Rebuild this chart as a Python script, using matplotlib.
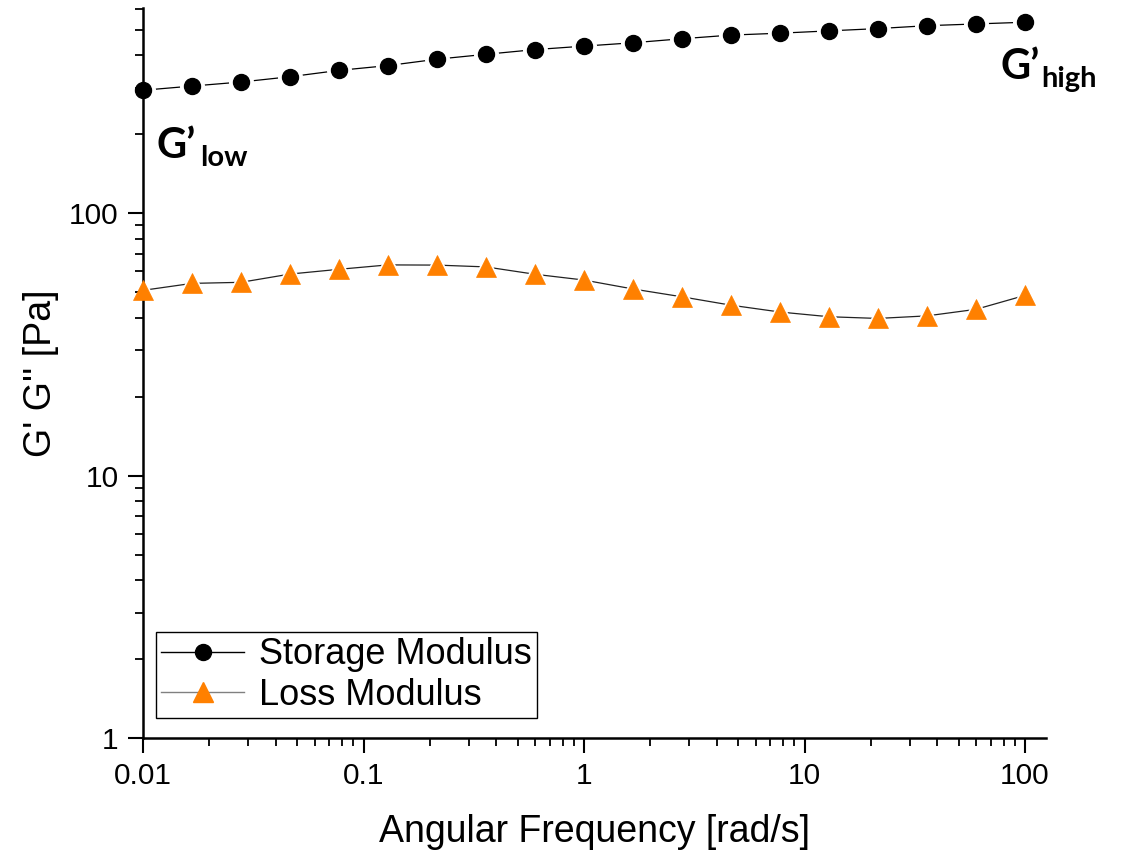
import matplotlib
matplotlib.use("Agg")
import matplotlib.pyplot as plt
from matplotlib.lines import Line2D
from matplotlib.ticker import LogLocator, FixedLocator, FixedFormatter, NullFormatter

plt.rcParams['font.family'] = ['Liberation Sans', 'DejaVu Sans']

# angular frequency [rad/s]
freq = [0.01, 0.0167, 0.0278, 0.0464, 0.0774, 0.129, 0.215, 0.359, 0.599, 1.0,
        1.67, 2.78, 4.64, 7.74, 12.9, 21.5, 35.9, 59.9, 100.0]
# storage modulus G' [Pa]
storage = [294, 305, 316, 331, 350, 365, 386, 403, 420, 433,
           446, 462, 477, 485, 495, 505, 518, 526, 534]
# loss modulus G'' [Pa]
loss = [50.8, 54.0, 54.5, 58.6, 61.1, 63.5, 63.4, 62.4, 58.5, 55.6,
        51.4, 48.0, 44.6, 42.0, 40.3, 39.7, 40.6, 43.0, 48.6]

x_ticks = [0.01, 0.1, 1, 10, 100]
x_labels = ['0.01', '0.1', '1', '10', '100']
y_ticks = [1, 10, 100]
y_labels = ['1', '10', '100']

W, H = 1125, 855
fig = plt.figure(figsize=(W / 100, H / 100), dpi=100)
ax = fig.add_axes([143 / W, (H - 738) / H, 903 / W, 730 / H])

orange = '#ff8000'

# connecting lines, then white halos so lines stop short of the markers
ax.plot(freq, storage, color='black', lw=0.9, zorder=1)
ax.plot(freq, loss, color='#222222', lw=0.9, zorder=1)
ax.plot(freq, storage, ls='none', marker='o', ms=17, mfc='white', mec='white', zorder=2)
ax.plot(freq, loss, ls='none', marker='^', ms=19, mfc='white', mec='white', zorder=2)
ax.plot(freq, storage, ls='none', marker='o', ms=11.5, mfc='black', mec='black',
        zorder=4, clip_on=False)
ax.plot(freq, loss, ls='none', marker='^', ms=14, mfc=orange, mec=orange, mew=0.5,
        zorder=4, clip_on=False)

ax.set_xscale('log')
ax.set_yscale('log')
ax.set_xlim(0.01, 124.5)
ax.set_ylim(1, 605)

ax.xaxis.set_major_locator(FixedLocator(x_ticks))
ax.xaxis.set_major_formatter(FixedFormatter(x_labels))
ax.yaxis.set_major_locator(FixedLocator(y_ticks))
ax.yaxis.set_major_formatter(FixedFormatter(y_labels))
ax.xaxis.set_minor_locator(LogLocator(base=10, subs=range(2, 10)))
ax.yaxis.set_minor_locator(LogLocator(base=10, subs=range(2, 10)))
ax.xaxis.set_minor_formatter(NullFormatter())
ax.yaxis.set_minor_formatter(NullFormatter())

for s in ['top', 'right']:
    ax.spines[s].set_visible(False)
for s in ['left', 'bottom']:
    ax.spines[s].set_linewidth(1.8)

ax.tick_params(which='major', direction='out', length=10.5, width=1.5, labelsize=21.5, pad=7)
ax.tick_params(which='minor', direction='out', length=5.5, width=1.3)

ax.set_xlabel('Angular Frequency [rad/s]', fontsize=27, labelpad=17)
ax.set_ylabel("G' G'' [Pa]", fontsize=27, labelpad=7)

handles = [
    Line2D([], [], color='black', lw=1, marker='o', ms=11.5, mfc='black', mec='black'),
    Line2D([], [], color='#808080', lw=1, marker='^', ms=14, mfc=orange, mec=orange),
]
leg = ax.legend(handles, ['Storage Modulus', 'Loss Modulus'], loc='lower left',
                bbox_to_anchor=(13 / 903, 20 / 730), borderaxespad=0, fontsize=26,
                frameon=True, fancybox=False, handlelength=2.3, handletextpad=0.4,
                borderpad=0.15, labelspacing=0.15, framealpha=1)
leg.get_frame().set_edgecolor('black')
leg.get_frame().set_linewidth(1.0)

# G' annotations
bold = ['Lato', 'DejaVu Sans']
fig.text(157 / W, 1 - 158 / H, 'G\u2019', fontsize=30, fontweight='bold', family=bold, va='baseline')
fig.text(200 / W, 1 - 166 / H, 'low', fontsize=21, fontweight='bold', family=bold, va='baseline')
fig.text(1001 / W, 1 - 79 / H, 'G\u2019', fontsize=30, fontweight='bold', family=bold, va='baseline')
fig.text(1041 / W, 1 - 87 / H, 'high', fontsize=21, fontweight='bold', family=bold, va='baseline')

fig.savefig('out.png', dpi=100)
